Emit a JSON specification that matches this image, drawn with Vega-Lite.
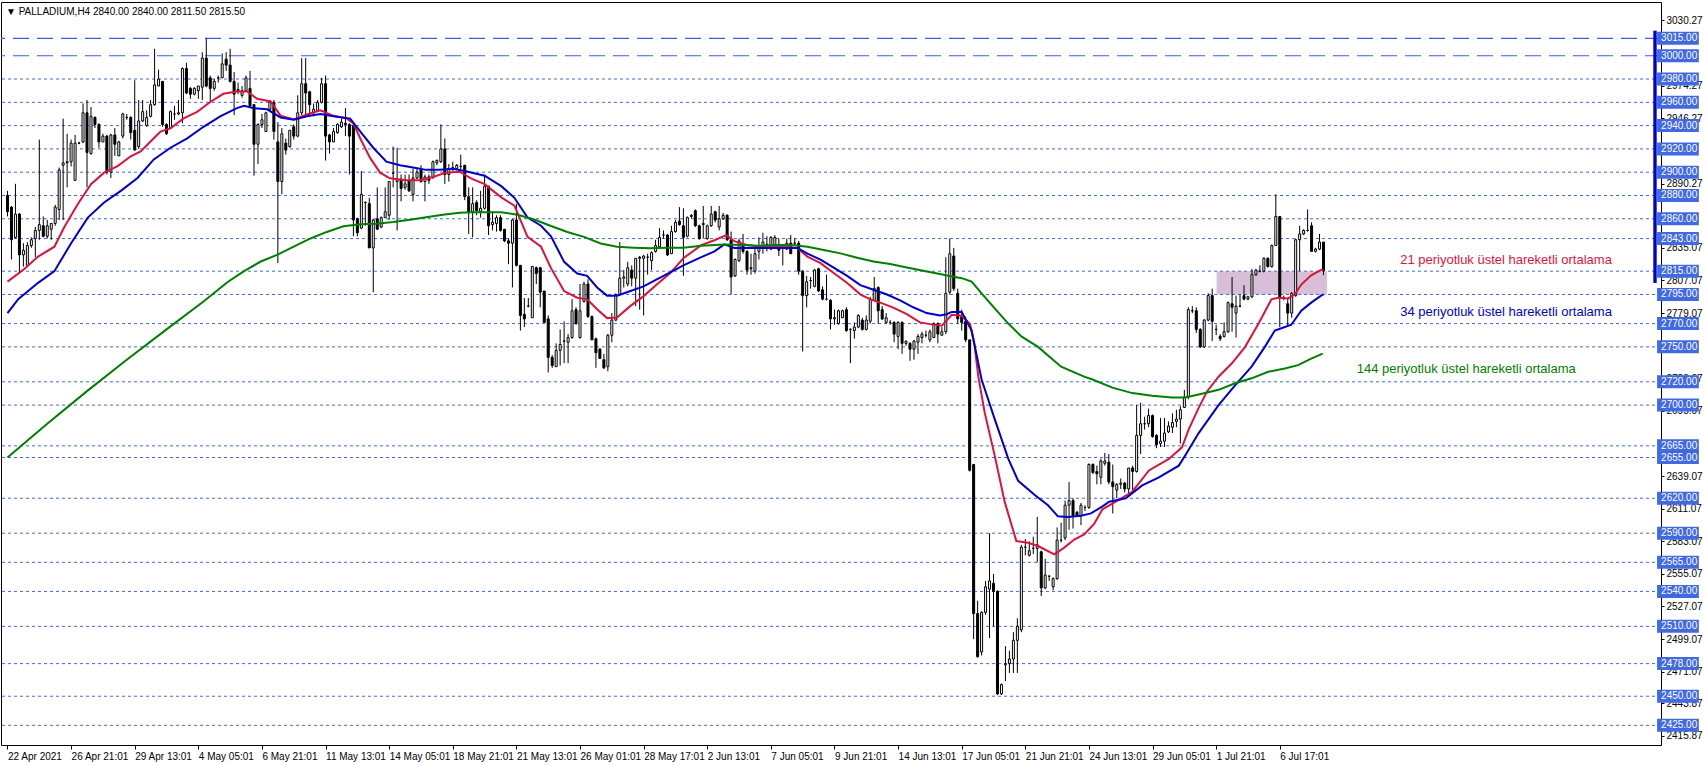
{
"$schema":"https://vega.github.io/schema/vega-lite/v6.json",
"width":1660,"height":743,
"autosize":{"type":"none"},
"padding":{"left":1,"top":2,"right":45,"bottom":21},
"background":"white",
"config":{"view":{"stroke":"black","strokeWidth":1},"font":"Liberation Sans"},
"title":{"text":"▼  PALLADIUM,H4  2840.00 2840.00 2811.50 2815.50","anchor":"start","frame":"group","orient":"top","offset":-12,"dx":5,"dy":11,"baseline":"alphabetic","font":"Liberation Sans","fontSize":10,"fontWeight":"normal","color":"black"},
"resolve":{"axis":{"x":"independent","y":"independent"}},
"datasets":{
"candles":[
{"i":0,"o":2880,"h":2884,"l":2862,"c":2866},{"i":1,"o":2870,"h":2871,"l":2825,"c":2842},{"i":2,"o":2844,"h":2890,"l":2843,"c":2864},{"i":3,"o":2864,"h":2865,"l":2813,"c":2829},{"i":4,"o":2829,"h":2839,"l":2819,"c":2833},{"i":5,"o":2820,"h":2840,"l":2819,"c":2837},{"i":6,"o":2837,"h":2844,"l":2835,"c":2842},{"i":7,"o":2843,"h":2853,"l":2827,"c":2850},{"i":8,"o":2850,"h":2928,"l":2842,"c":2855},{"i":9,"o":2854,"h":2862,"l":2844,"c":2845},
{"i":10,"o":2845,"h":2859,"l":2843,"c":2854},{"i":11,"o":2851,"h":2856,"l":2842,"c":2856},{"i":12,"o":2856,"h":2872,"l":2854,"c":2870},{"i":13,"o":2868,"h":2904,"l":2859,"c":2902},{"i":14,"o":2906,"h":2946,"l":2859,"c":2908},{"i":15,"o":2908,"h":2933,"l":2887,"c":2909},{"i":16,"o":2909,"h":2928,"l":2905,"c":2925},{"i":17,"o":2893,"h":2932,"l":2893,"c":2925},{"i":18,"o":2925,"h":2926,"l":2924,"c":2925},{"i":19,"o":2926,"h":2959,"l":2925,"c":2951},
{"i":20,"o":2951,"h":2962,"l":2887,"c":2917},{"i":21,"o":2916,"h":2956,"l":2915,"c":2948},{"i":22,"o":2947,"h":2948,"l":2938,"c":2941},{"i":23,"o":2941,"h":2942,"l":2921,"c":2926},{"i":24,"o":2926,"h":2933,"l":2926,"c":2931},{"i":25,"o":2931,"h":2932,"l":2898,"c":2900},{"i":26,"o":2900,"h":2933,"l":2895,"c":2932},{"i":27,"o":2932,"h":2938,"l":2914,"c":2924},{"i":28,"o":2914,"h":2927,"l":2914,"c":2926},{"i":29,"o":2931,"h":2951,"l":2929,"c":2950},
{"i":30,"o":2947,"h":2950,"l":2945,"c":2947},{"i":31,"o":2947,"h":2948,"l":2928,"c":2934},{"i":32,"o":2936,"h":2979,"l":2919,"c":2919},{"i":33,"o":2922,"h":2962,"l":2920,"c":2944},{"i":34,"o":2944,"h":2962,"l":2943,"c":2952},{"i":35,"o":2940,"h":2953,"l":2939,"c":2947},{"i":36,"o":2948,"h":2962,"l":2947,"c":2958},{"i":37,"o":2958,"h":3006,"l":2957,"c":2975},{"i":38,"o":2974,"h":2988,"l":2974,"c":2980},{"i":39,"o":2978,"h":2978,"l":2939,"c":2941},
{"i":40,"o":2941,"h":2942,"l":2932,"c":2933},{"i":41,"o":2938,"h":2953,"l":2937,"c":2952},{"i":42,"o":2950,"h":2957,"l":2945,"c":2950},{"i":43,"o":2950,"h":2962,"l":2949,"c":2951},{"i":44,"o":2951,"h":2990,"l":2942,"c":2989},{"i":45,"o":2989,"h":2994,"l":2967,"c":2968},{"i":46,"o":2972,"h":2973,"l":2963,"c":2967},{"i":47,"o":2967,"h":2973,"l":2966,"c":2972},{"i":48,"o":2970,"h":2974,"l":2963,"c":2974},{"i":49,"o":2973,"h":3003,"l":2962,"c":2998},
{"i":50,"o":2998,"h":3015,"l":2973,"c":2974},{"i":51,"o":2981,"h":2983,"l":2960,"c":2972},{"i":52,"o":2972,"h":2980,"l":2970,"c":2978},{"i":53,"o":2981,"h":2983,"l":2977,"c":2981},{"i":54,"o":2981,"h":3002,"l":2981,"c":2993},{"i":55,"o":2997,"h":3003,"l":2987,"c":2992},{"i":56,"o":2992,"h":3006,"l":2977,"c":2978},{"i":57,"o":2978,"h":2986,"l":2949,"c":2967},{"i":58,"o":2970,"h":2977,"l":2967,"c":2971},{"i":59,"o":2966,"h":2974,"l":2964,"c":2970},
{"i":60,"o":2970,"h":2983,"l":2969,"c":2981},{"i":61,"o":2972,"h":2987,"l":2956,"c":2957},{"i":62,"o":2958,"h":2958,"l":2897,"c":2924},{"i":63,"o":2924,"h":2942,"l":2907,"c":2941},{"i":64,"o":2941,"h":2950,"l":2938,"c":2945},{"i":65,"o":2935,"h":2952,"l":2935,"c":2951},{"i":66,"o":2954,"h":2962,"l":2953,"c":2960},{"i":67,"o":2960,"h":2962,"l":2928,"c":2935},{"i":68,"o":2926,"h":2943,"l":2822,"c":2892},{"i":69,"o":2892,"h":2938,"l":2881,"c":2933},
{"i":70,"o":2925,"h":2929,"l":2915,"c":2919},{"i":71,"o":2922,"h":2936,"l":2921,"c":2936},{"i":72,"o":2939,"h":2941,"l":2928,"c":2931},{"i":73,"o":2931,"h":2966,"l":2930,"c":2951},{"i":74,"o":2951,"h":2998,"l":2949,"c":2976},{"i":75,"o":2976,"h":2998,"l":2950,"c":2968},{"i":76,"o":2969,"h":2970,"l":2948,"c":2958},{"i":77,"o":2951,"h":2959,"l":2948,"c":2954},{"i":78,"o":2953,"h":2962,"l":2952,"c":2960},{"i":79,"o":2960,"h":2981,"l":2959,"c":2976},
{"i":80,"o":2976,"h":2983,"l":2910,"c":2931},{"i":81,"o":2932,"h":2933,"l":2916,"c":2926},{"i":82,"o":2926,"h":2938,"l":2926,"c":2935},{"i":83,"o":2934,"h":2942,"l":2933,"c":2941},{"i":84,"o":2939,"h":2946,"l":2938,"c":2943},{"i":85,"o":2942,"h":2955,"l":2931,"c":2941},{"i":86,"o":2941,"h":2942,"l":2898,"c":2931},{"i":87,"o":2940,"h":2942,"l":2845,"c":2859},{"i":88,"o":2860,"h":2861,"l":2845,"c":2848},{"i":89,"o":2852,"h":2901,"l":2851,"c":2881},
{"i":90,"o":2874,"h":2875,"l":2854,"c":2874},{"i":91,"o":2873,"h":2878,"l":2835,"c":2835},{"i":92,"o":2835,"h":2860,"l":2797,"c":2859},{"i":93,"o":2860,"h":2887,"l":2851,"c":2851},{"i":94,"o":2853,"h":2862,"l":2852,"c":2861},{"i":95,"o":2861,"h":2887,"l":2861,"c":2866},{"i":96,"o":2863,"h":2892,"l":2859,"c":2892},{"i":97,"o":2899,"h":2922,"l":2887,"c":2899},{"i":98,"o":2892,"h":2921,"l":2850,"c":2894},{"i":99,"o":2894,"h":2898,"l":2875,"c":2886},
{"i":100,"o":2887,"h":2898,"l":2885,"c":2890},{"i":101,"o":2893,"h":2898,"l":2883,"c":2884},{"i":102,"o":2881,"h":2903,"l":2875,"c":2895},{"i":103,"o":2895,"h":2904,"l":2894,"c":2900},{"i":104,"o":2902,"h":2906,"l":2891,"c":2892},{"i":105,"o":2892,"h":2898,"l":2875,"c":2896},{"i":106,"o":2896,"h":2898,"l":2890,"c":2893},{"i":107,"o":2895,"h":2910,"l":2895,"c":2909},{"i":108,"o":2908,"h":2911,"l":2906,"c":2910},{"i":109,"o":2909,"h":2941,"l":2908,"c":2920},
{"i":110,"o":2920,"h":2929,"l":2890,"c":2898},{"i":111,"o":2898,"h":2907,"l":2892,"c":2903},{"i":112,"o":2904,"h":2909,"l":2901,"c":2904},{"i":113,"o":2903,"h":2907,"l":2902,"c":2906},{"i":114,"o":2905,"h":2915,"l":2902,"c":2905},{"i":115,"o":2906,"h":2906,"l":2876,"c":2879},{"i":116,"o":2879,"h":2887,"l":2847,"c":2866},{"i":117,"o":2866,"h":2887,"l":2844,"c":2873},{"i":118,"o":2874,"h":2876,"l":2863,"c":2867},{"i":119,"o":2866,"h":2884,"l":2861,"c":2869},
{"i":120,"o":2869,"h":2898,"l":2868,"c":2888},{"i":121,"o":2888,"h":2888,"l":2846,"c":2854},{"i":122,"o":2855,"h":2866,"l":2850,"c":2857},{"i":123,"o":2856,"h":2863,"l":2849,"c":2861},{"i":124,"o":2861,"h":2863,"l":2849,"c":2850},{"i":125,"o":2851,"h":2851,"l":2840,"c":2841},{"i":126,"o":2841,"h":2843,"l":2821,"c":2839},{"i":127,"o":2839,"h":2860,"l":2801,"c":2859},{"i":128,"o":2859,"h":2873,"l":2819,"c":2820},{"i":129,"o":2820,"h":2820,"l":2764,"c":2777},
{"i":130,"o":2778,"h":2792,"l":2767,"c":2774},{"i":131,"o":2785,"h":2792,"l":2784,"c":2785},{"i":132,"o":2775,"h":2819,"l":2775,"c":2819},{"i":133,"o":2818,"h":2819,"l":2804,"c":2813},{"i":134,"o":2818,"h":2818,"l":2784,"c":2797},{"i":135,"o":2798,"h":2798,"l":2771,"c":2771},{"i":136,"o":2774,"h":2777,"l":2728,"c":2741},{"i":137,"o":2741,"h":2743,"l":2732,"c":2734},{"i":138,"o":2733,"h":2753,"l":2733,"c":2747},{"i":139,"o":2747,"h":2765,"l":2734,"c":2752},
{"i":140,"o":2755,"h":2772,"l":2736,"c":2755},{"i":141,"o":2754,"h":2761,"l":2736,"c":2758},{"i":142,"o":2758,"h":2791,"l":2757,"c":2781},{"i":143,"o":2782,"h":2784,"l":2769,"c":2770},{"i":144,"o":2758,"h":2804,"l":2757,"c":2781},{"i":145,"o":2789,"h":2806,"l":2788,"c":2804},{"i":146,"o":2804,"h":2808,"l":2775,"c":2776},{"i":147,"o":2776,"h":2777,"l":2756,"c":2756},{"i":148,"o":2757,"h":2758,"l":2732,"c":2745},{"i":149,"o":2748,"h":2749,"l":2740,"c":2740},
{"i":150,"o":2739,"h":2744,"l":2731,"c":2732},{"i":151,"o":2733,"h":2761,"l":2729,"c":2760},{"i":152,"o":2760,"h":2779,"l":2754,"c":2773},{"i":153,"o":2773,"h":2796,"l":2772,"c":2795},{"i":154,"o":2795,"h":2840,"l":2794,"c":2809},{"i":155,"o":2809,"h":2816,"l":2801,"c":2810},{"i":156,"o":2804,"h":2823,"l":2802,"c":2818},{"i":157,"o":2816,"h":2820,"l":2802,"c":2809},{"i":158,"o":2809,"h":2826,"l":2785,"c":2826},{"i":159,"o":2826,"h":2828,"l":2782,"c":2827},
{"i":160,"o":2826,"h":2829,"l":2777,"c":2828},{"i":161,"o":2827,"h":2830,"l":2812,"c":2827},{"i":162,"o":2824,"h":2832,"l":2816,"c":2831},{"i":163,"o":2832,"h":2842,"l":2831,"c":2837},{"i":164,"o":2836,"h":2852,"l":2835,"c":2844},{"i":165,"o":2846,"h":2850,"l":2843,"c":2846},{"i":166,"o":2846,"h":2847,"l":2828,"c":2829},{"i":167,"o":2830,"h":2854,"l":2830,"c":2849},{"i":168,"o":2849,"h":2859,"l":2848,"c":2857},{"i":169,"o":2858,"h":2870,"l":2854,"c":2855},
{"i":170,"o":2854,"h":2869,"l":2811,"c":2844},{"i":171,"o":2845,"h":2862,"l":2844,"c":2861},{"i":172,"o":2862,"h":2864,"l":2860,"c":2863},{"i":173,"o":2867,"h":2868,"l":2853,"c":2854},{"i":174,"o":2854,"h":2855,"l":2842,"c":2843},{"i":175,"o":2855,"h":2871,"l":2843,"c":2856},{"i":176,"o":2843,"h":2855,"l":2842,"c":2854},{"i":177,"o":2854,"h":2871,"l":2853,"c":2864},{"i":178,"o":2866,"h":2867,"l":2857,"c":2859},{"i":179,"o":2853,"h":2871,"l":2850,"c":2860},
{"i":180,"o":2860,"h":2865,"l":2859,"c":2863},{"i":181,"o":2863,"h":2864,"l":2841,"c":2842},{"i":182,"o":2842,"h":2849,"l":2795,"c":2810},{"i":183,"o":2811,"h":2826,"l":2810,"c":2825},{"i":184,"o":2824,"h":2843,"l":2823,"c":2841},{"i":185,"o":2837,"h":2847,"l":2830,"c":2832},{"i":186,"o":2832,"h":2833,"l":2812,"c":2816},{"i":187,"o":2817,"h":2830,"l":2812,"c":2818},{"i":188,"o":2815,"h":2836,"l":2813,"c":2830},{"i":189,"o":2832,"h":2844,"l":2825,"c":2836},
{"i":190,"o":2836,"h":2848,"l":2830,"c":2840},{"i":191,"o":2838,"h":2845,"l":2832,"c":2838},{"i":192,"o":2834,"h":2845,"l":2833,"c":2844},{"i":193,"o":2836,"h":2846,"l":2835,"c":2844},{"i":194,"o":2838,"h":2843,"l":2828,"c":2833},{"i":195,"o":2836,"h":2838,"l":2820,"c":2836},{"i":196,"o":2834,"h":2843,"l":2833,"c":2839},{"i":197,"o":2839,"h":2846,"l":2830,"c":2830},{"i":198,"o":2839,"h":2843,"l":2837,"c":2839},{"i":199,"o":2839,"h":2841,"l":2812,"c":2815},
{"i":200,"o":2815,"h":2816,"l":2746,"c":2794},{"i":201,"o":2794,"h":2811,"l":2784,"c":2806},{"i":202,"o":2807,"h":2810,"l":2800,"c":2807},{"i":203,"o":2802,"h":2817,"l":2801,"c":2816},{"i":204,"o":2817,"h":2818,"l":2797,"c":2798},{"i":205,"o":2799,"h":2802,"l":2790,"c":2791},{"i":206,"o":2791,"h":2812,"l":2790,"c":2791},{"i":207,"o":2790,"h":2791,"l":2765,"c":2774},{"i":208,"o":2774,"h":2782,"l":2769,"c":2775},{"i":209,"o":2770,"h":2782,"l":2769,"c":2781},
{"i":210,"o":2775,"h":2782,"l":2775,"c":2781},{"i":211,"o":2782,"h":2784,"l":2763,"c":2764},{"i":212,"o":2765,"h":2766,"l":2736,"c":2765},{"i":213,"o":2764,"h":2771,"l":2757,"c":2767},{"i":214,"o":2767,"h":2778,"l":2766,"c":2777},{"i":215,"o":2773,"h":2775,"l":2764,"c":2765},{"i":216,"o":2765,"h":2777,"l":2764,"c":2773},{"i":217,"o":2772,"h":2793,"l":2770,"c":2791},{"i":218,"o":2790,"h":2810,"l":2790,"c":2800},{"i":219,"o":2801,"h":2802,"l":2770,"c":2781},
{"i":220,"o":2782,"h":2785,"l":2773,"c":2774},{"i":221,"o":2771,"h":2779,"l":2770,"c":2775},{"i":222,"o":2771,"h":2773,"l":2769,"c":2771},{"i":223,"o":2771,"h":2772,"l":2754,"c":2761},{"i":224,"o":2759,"h":2772,"l":2748,"c":2771},{"i":225,"o":2771,"h":2772,"l":2744,"c":2753},{"i":226,"o":2753,"h":2755,"l":2751,"c":2755},{"i":227,"o":2753,"h":2754,"l":2738,"c":2748},{"i":228,"o":2748,"h":2756,"l":2739,"c":2755},{"i":229,"o":2754,"h":2761,"l":2744,"c":2759},
{"i":230,"o":2758,"h":2763,"l":2753,"c":2761},{"i":231,"o":2760,"h":2764,"l":2758,"c":2760},{"i":232,"o":2756,"h":2765,"l":2754,"c":2763},{"i":233,"o":2758,"h":2771,"l":2758,"c":2770},{"i":234,"o":2770,"h":2771,"l":2753,"c":2761},{"i":235,"o":2760,"h":2767,"l":2760,"c":2763},{"i":236,"o":2763,"h":2827,"l":2761,"c":2796},{"i":237,"o":2797,"h":2843,"l":2795,"c":2830},{"i":238,"o":2828,"h":2835,"l":2798,"c":2800},{"i":239,"o":2796,"h":2800,"l":2770,"c":2774},
{"i":240,"o":2776,"h":2782,"l":2764,"c":2771},{"i":241,"o":2772,"h":2776,"l":2754,"c":2756},{"i":242,"o":2756,"h":2756,"l":2643,"c":2644},{"i":243,"o":2649,"h":2649,"l":2499,"c":2521},{"i":244,"o":2521,"h":2532,"l":2483,"c":2484},{"i":245,"o":2488,"h":2523,"l":2485,"c":2522},{"i":246,"o":2522,"h":2549,"l":2520,"c":2544},{"i":247,"o":2542,"h":2590,"l":2500,"c":2549},{"i":248,"o":2547,"h":2555,"l":2510,"c":2540},{"i":249,"o":2540,"h":2541,"l":2451,"c":2452},
{"i":250,"o":2452,"h":2461,"l":2451,"c":2460},{"i":251,"o":2477,"h":2493,"l":2463,"c":2478},{"i":252,"o":2478,"h":2489,"l":2470,"c":2482},{"i":253,"o":2482,"h":2505,"l":2470,"c":2498},{"i":254,"o":2498,"h":2517,"l":2470,"c":2510},{"i":255,"o":2507,"h":2580,"l":2505,"c":2578},{"i":256,"o":2578,"h":2585,"l":2571,"c":2578},{"i":257,"o":2571,"h":2583,"l":2570,"c":2575},{"i":258,"o":2577,"h":2587,"l":2572,"c":2577},{"i":259,"o":2577,"h":2604,"l":2565,"c":2580},
{"i":260,"o":2574,"h":2575,"l":2536,"c":2543},{"i":261,"o":2543,"h":2568,"l":2542,"c":2554},{"i":262,"o":2553,"h":2554,"l":2549,"c":2553},{"i":263,"o":2544,"h":2552,"l":2541,"c":2551},{"i":264,"o":2551,"h":2595,"l":2550,"c":2584},{"i":265,"o":2584,"h":2599,"l":2582,"c":2584},{"i":266,"o":2586,"h":2618,"l":2584,"c":2614},{"i":267,"o":2614,"h":2634,"l":2593,"c":2618},{"i":268,"o":2618,"h":2620,"l":2594,"c":2605},{"i":269,"o":2608,"h":2609,"l":2604,"c":2605},
{"i":270,"o":2605,"h":2616,"l":2597,"c":2614},{"i":271,"o":2612,"h":2614,"l":2609,"c":2612},{"i":272,"o":2612,"h":2650,"l":2611,"c":2649},{"i":273,"o":2649,"h":2650,"l":2641,"c":2642},{"i":274,"o":2643,"h":2648,"l":2632,"c":2641},{"i":275,"o":2638,"h":2654,"l":2632,"c":2652},{"i":276,"o":2650,"h":2659,"l":2648,"c":2652},{"i":277,"o":2651,"h":2658,"l":2632,"c":2634},{"i":278,"o":2634,"h":2649,"l":2607,"c":2630},{"i":279,"o":2627,"h":2633,"l":2620,"c":2632},
{"i":280,"o":2632,"h":2637,"l":2628,"c":2633},{"i":281,"o":2633,"h":2634,"l":2625,"c":2628},{"i":282,"o":2628,"h":2646,"l":2621,"c":2646},{"i":283,"o":2646,"h":2648,"l":2625,"c":2643},{"i":284,"o":2643,"h":2700,"l":2642,"c":2674},{"i":285,"o":2674,"h":2702,"l":2658,"c":2684},{"i":286,"o":2684,"h":2690,"l":2679,"c":2684},{"i":287,"o":2684,"h":2697,"l":2681,"c":2691},{"i":288,"o":2691,"h":2692,"l":2672,"c":2673},{"i":289,"o":2674,"h":2675,"l":2663,"c":2666},
{"i":290,"o":2667,"h":2689,"l":2664,"c":2669},{"i":291,"o":2669,"h":2689,"l":2664,"c":2676},{"i":292,"o":2677,"h":2686,"l":2676,"c":2682},{"i":293,"o":2681,"h":2693,"l":2676,"c":2685},{"i":294,"o":2686,"h":2696,"l":2681,"c":2688},{"i":295,"o":2688,"h":2699,"l":2667,"c":2696},{"i":296,"o":2698,"h":2713,"l":2698,"c":2707},{"i":297,"o":2707,"h":2784,"l":2705,"c":2782},{"i":298,"o":2781,"h":2785,"l":2779,"c":2781},{"i":299,"o":2781,"h":2784,"l":2762,"c":2765},
{"i":300,"o":2765,"h":2766,"l":2749,"c":2750},{"i":301,"o":2750,"h":2774,"l":2749,"c":2773},{"i":302,"o":2773,"h":2796,"l":2772,"c":2794},{"i":303,"o":2794,"h":2800,"l":2755,"c":2772},{"i":304,"o":2765,"h":2769,"l":2760,"c":2765},{"i":305,"o":2759,"h":2761,"l":2755,"c":2757},{"i":306,"o":2759,"h":2771,"l":2758,"c":2763},{"i":307,"o":2763,"h":2789,"l":2762,"c":2788},{"i":308,"o":2787,"h":2810,"l":2763,"c":2784},{"i":309,"o":2779,"h":2794,"l":2758,"c":2785},
{"i":310,"o":2785,"h":2795,"l":2784,"c":2785},{"i":311,"o":2794,"h":2803,"l":2790,"c":2791},{"i":312,"o":2791,"h":2794,"l":2790,"c":2793},{"i":313,"o":2793,"h":2817,"l":2792,"c":2812},{"i":314,"o":2812,"h":2817,"l":2811,"c":2816},{"i":315,"o":2815,"h":2820,"l":2814,"c":2815},{"i":316,"o":2815,"h":2827,"l":2814,"c":2826},{"i":317,"o":2826,"h":2827,"l":2818,"c":2819},{"i":318,"o":2819,"h":2838,"l":2818,"c":2837},{"i":319,"o":2837,"h":2881,"l":2837,"c":2862},
{"i":320,"o":2862,"h":2862,"l":2767,"c":2792},{"i":321,"o":2792,"h":2794,"l":2790,"c":2792},{"i":322,"o":2787,"h":2791,"l":2768,"c":2779},{"i":323,"o":2779,"h":2797,"l":2775,"c":2796},{"i":324,"o":2794,"h":2843,"l":2793,"c":2842},{"i":325,"o":2842,"h":2854,"l":2815,"c":2847},{"i":326,"o":2847,"h":2851,"l":2846,"c":2850},{"i":327,"o":2850,"h":2868,"l":2849,"c":2850},{"i":328,"o":2854,"h":2857,"l":2832,"c":2832},{"i":329,"o":2832,"h":2835,"l":2831,"c":2834},
{"i":330,"o":2834,"h":2847,"l":2833,"c":2840},{"i":331,"o":2840,"h":2840,"l":2811.5,"c":2815.5}
],
"ema":[
{"s":"21","i":0,"v":2806},{"s":"21","i":4.3,"v":2817},{"s":"21","i":7.7,"v":2827.5},{"s":"21","i":11.8,"v":2836},{"s":"21","i":14.3,"v":2853},{"s":"21","i":17.7,"v":2872.7},{"s":"21","i":21,"v":2889.7},{"s":"21","i":24.3,"v":2899.6},{"s":"21","i":27.7,"v":2905.2},{"s":"21","i":31,"v":2913.7},{"s":"21","i":33.5,"v":2917.9},{"s":"21","i":36.8,"v":2929.2},{"s":"21","i":38.5,"v":2934.9},{"s":"21","i":41,"v":2937.7},{"s":"21","i":44.3,"v":2946.2},{"s":"21","i":47.7,"v":2951.8},{"s":"21","i":51,"v":2960.3},{"s":"21","i":54.3,"v":2967.3},{"s":"21","i":57.7,"v":2969.3},{"s":"21","i":60.3,"v":2969.3},{"s":"21","i":62.8,"v":2963},{"s":"21","i":66.2,"v":2960.8},{"s":"21","i":68.7,"v":2948.4},{"s":"21","i":72,"v":2945.3},{"s":"21","i":75.3,"v":2949.5},{"s":"21","i":78.7,"v":2953.2},{"s":"21","i":82,"v":2948.4},{"s":"21","i":85.3,"v":2946.2},{"s":"21","i":87,"v":2941.9},{"s":"21","i":88.7,"v":2929.2},{"s":"21","i":91.2,"v":2912.3},{"s":"21","i":93.7,"v":2899.6},{"s":"21","i":96.2,"v":2894.8},{"s":"21","i":100.3,"v":2893.1},{"s":"21","i":103.7,"v":2893.1},{"s":"21","i":107,"v":2895.9},{"s":"21","i":110.3,"v":2899.6},{"s":"21","i":113.7,"v":2900.4},{"s":"21","i":116.7,"v":2894.5},{"s":"21","i":120,"v":2889.7},{"s":"21","i":124.2,"v":2878.4},{"s":"21","i":127.5,"v":2871.3},{"s":"21","i":130.8,"v":2844.5},{"s":"21","i":134.2,"v":2836},{"s":"21","i":136.7,"v":2817.6},{"s":"21","i":140,"v":2797.9},{"s":"21","i":143.3,"v":2792.2},{"s":"21","i":145.8,"v":2790.8},{"s":"21","i":148.3,"v":2782.3},{"s":"21","i":150.8,"v":2774.7},{"s":"21","i":153.3,"v":2775.3},{"s":"21","i":156.7,"v":2785.2},{"s":"21","i":160,"v":2793.6},{"s":"21","i":163.3,"v":2803.5},{"s":"21","i":166.7,"v":2813.4},{"s":"21","i":170,"v":2826.1},{"s":"21","i":174.5,"v":2837.4},{"s":"21","i":177.8,"v":2841.6},{"s":"21","i":180.8,"v":2845.9},{"s":"21","i":182.8,"v":2840.8},{"s":"21","i":186.2,"v":2837.4},{"s":"21","i":189.5,"v":2836},{"s":"21","i":192.8,"v":2836.8},{"s":"21","i":196.2,"v":2836},{"s":"21","i":198.7,"v":2834.6},{"s":"21","i":201.2,"v":2827.5},{"s":"21","i":204.5,"v":2821.9},{"s":"21","i":207.8,"v":2813.4},{"s":"21","i":211.2,"v":2804.9},{"s":"21","i":214.5,"v":2795.1},{"s":"21","i":217,"v":2790.8},{"s":"21","i":219.5,"v":2788},{"s":"21","i":222.8,"v":2783.7},{"s":"21","i":226.2,"v":2778.1},{"s":"21","i":229.5,"v":2771},{"s":"21","i":232.8,"v":2769.1},{"s":"21","i":235,"v":2768.2},{"s":"21","i":237.5,"v":2777.5},{"s":"21","i":240,"v":2776.7},{"s":"21","i":242.1,"v":2769.6},{"s":"21","i":243.2,"v":2752},{"s":"21","i":244.2,"v":2724},{"s":"21","i":245.8,"v":2693.3},{"s":"21","i":248.3,"v":2656.6},{"s":"21","i":250.8,"v":2617.1},{"s":"21","i":253.75,"v":2583.2},{"s":"21","i":256.7,"v":2581.8},{"s":"21","i":259.2,"v":2579},{"s":"21","i":263.3,"v":2571.9},{"s":"21","i":265.8,"v":2577.6},{"s":"21","i":268.3,"v":2584.6},{"s":"21","i":270.8,"v":2588.9},{"s":"21","i":273.3,"v":2597.9},{"s":"21","i":275.4,"v":2610.5},{"s":"21","i":278.75,"v":2617.1},{"s":"21","i":282.9,"v":2625.6},{"s":"21","i":287.1,"v":2643.9},{"s":"21","i":292.1,"v":2653.8},{"s":"21","i":295.4,"v":2663.7},{"s":"21","i":297.1,"v":2679.2},{"s":"21","i":299.6,"v":2697.6},{"s":"21","i":301.7,"v":2711.7},{"s":"21","i":304.6,"v":2724.4},{"s":"21","i":307.9,"v":2735.7},{"s":"21","i":311.25,"v":2749.8},{"s":"21","i":314.6,"v":2769.6},{"s":"21","i":317.9,"v":2790.8},{"s":"21","i":319.6,"v":2792.2},{"s":"21","i":322.1,"v":2791.6},{"s":"21","i":323.75,"v":2795},{"s":"21","i":325.4,"v":2803.5},{"s":"21","i":327.9,"v":2811.4},{"s":"21","i":330.4,"v":2816.2},{"s":"21","i":331,"v":2815.5},
{"s":"34","i":0,"v":2779},{"s":"34","i":2.7,"v":2791},{"s":"34","i":7.7,"v":2805},{"s":"34","i":11.8,"v":2815},{"s":"34","i":16,"v":2839},{"s":"34","i":20.2,"v":2861},{"s":"34","i":24.3,"v":2874},{"s":"34","i":28.5,"v":2884},{"s":"34","i":32.7,"v":2895},{"s":"34","i":36.8,"v":2911},{"s":"34","i":41,"v":2921},{"s":"34","i":45.2,"v":2929},{"s":"34","i":49.3,"v":2939},{"s":"34","i":53.5,"v":2948},{"s":"34","i":57.7,"v":2955},{"s":"34","i":59.5,"v":2957},{"s":"34","i":62,"v":2955},{"s":"34","i":65.3,"v":2954},{"s":"34","i":68.7,"v":2947},{"s":"34","i":72,"v":2945},{"s":"34","i":75.3,"v":2948},{"s":"34","i":78.7,"v":2950},{"s":"34","i":82,"v":2948},{"s":"34","i":86.2,"v":2946},{"s":"34","i":88.7,"v":2935},{"s":"34","i":92,"v":2921},{"s":"34","i":95.3,"v":2909},{"s":"34","i":98.7,"v":2906},{"s":"34","i":102,"v":2904},{"s":"34","i":105.3,"v":2902},{"s":"34","i":108.7,"v":2902},{"s":"34","i":112,"v":2903},{"s":"34","i":115,"v":2901},{"s":"34","i":120,"v":2897},{"s":"34","i":124.2,"v":2888},{"s":"34","i":127.5,"v":2878},{"s":"34","i":130.8,"v":2861},{"s":"34","i":134.2,"v":2854},{"s":"34","i":136.7,"v":2845},{"s":"34","i":140,"v":2823},{"s":"34","i":143.3,"v":2813},{"s":"34","i":145.8,"v":2811},{"s":"34","i":148.3,"v":2801},{"s":"34","i":150.8,"v":2794},{"s":"34","i":153.3,"v":2794},{"s":"34","i":156.7,"v":2798},{"s":"34","i":160,"v":2802},{"s":"34","i":163.3,"v":2808},{"s":"34","i":166.7,"v":2814},{"s":"34","i":170,"v":2820},{"s":"34","i":174.5,"v":2827},{"s":"34","i":177.8,"v":2832},{"s":"34","i":180.3,"v":2838},{"s":"34","i":182.8,"v":2835},{"s":"34","i":186.2,"v":2835},{"s":"34","i":192.8,"v":2835},{"s":"34","i":198.7,"v":2835},{"s":"34","i":201.2,"v":2830},{"s":"34","i":204.5,"v":2825},{"s":"34","i":207.8,"v":2818},{"s":"34","i":211.2,"v":2811},{"s":"34","i":214.5,"v":2803},{"s":"34","i":217.8,"v":2799},{"s":"34","i":221.2,"v":2795},{"s":"34","i":224.5,"v":2790},{"s":"34","i":227.8,"v":2784},{"s":"34","i":231.2,"v":2779},{"s":"34","i":234.5,"v":2777},{"s":"34","i":236.2,"v":2778},{"s":"34","i":237.5,"v":2780},{"s":"34","i":240,"v":2780},{"s":"34","i":242.5,"v":2764},{"s":"34","i":245,"v":2722},{"s":"34","i":248.3,"v":2688},{"s":"34","i":251.7,"v":2654},{"s":"34","i":254.2,"v":2635},{"s":"34","i":258.3,"v":2623},{"s":"34","i":261.7,"v":2614},{"s":"34","i":264.2,"v":2604.5},{"s":"34","i":266.7,"v":2604},{"s":"34","i":270,"v":2605},{"s":"34","i":272.5,"v":2607},{"s":"34","i":275.4,"v":2613},{"s":"34","i":277.1,"v":2617},{"s":"34","i":281.25,"v":2620},{"s":"34","i":285.4,"v":2631},{"s":"34","i":289.6,"v":2638},{"s":"34","i":294.6,"v":2648},{"s":"34","i":296.25,"v":2657},{"s":"34","i":299.6,"v":2676},{"s":"34","i":304.6,"v":2700},{"s":"34","i":308.75,"v":2717},{"s":"34","i":312.9,"v":2733},{"s":"34","i":316.25,"v":2750},{"s":"34","i":318.75,"v":2764},{"s":"34","i":320.4,"v":2766},{"s":"34","i":322.9,"v":2769},{"s":"34","i":325.4,"v":2781},{"s":"34","i":327.9,"v":2788},{"s":"34","i":330.4,"v":2794},{"s":"34","i":331,"v":2795},
{"s":"144","i":0,"v":2655},{"s":"144","i":10,"v":2684},{"s":"144","i":20,"v":2712},{"s":"144","i":30,"v":2739},{"s":"144","i":40,"v":2765},{"s":"144","i":49.3,"v":2789},{"s":"144","i":55.3,"v":2805.5},{"s":"144","i":59.5,"v":2815},{"s":"144","i":63.7,"v":2823.3},{"s":"144","i":67.8,"v":2829},{"s":"144","i":72,"v":2836},{"s":"144","i":76.2,"v":2843.1},{"s":"144","i":80.3,"v":2848.7},{"s":"144","i":84.5,"v":2853.5},{"s":"144","i":88.7,"v":2855.2},{"s":"144","i":92.8,"v":2855.8},{"s":"144","i":97,"v":2857.2},{"s":"144","i":101.2,"v":2859.2},{"s":"144","i":105.3,"v":2861.4},{"s":"144","i":109.5,"v":2863.4},{"s":"144","i":113.7,"v":2865.1},{"s":"144","i":116.7,"v":2865.7},{"s":"144","i":124.2,"v":2865.7},{"s":"144","i":128.3,"v":2863.4},{"s":"144","i":132.5,"v":2859.4},{"s":"144","i":136.7,"v":2853.8},{"s":"144","i":140.8,"v":2848.7},{"s":"144","i":145,"v":2844.5},{"s":"144","i":149.2,"v":2838.8},{"s":"144","i":153.3,"v":2836},{"s":"144","i":157.5,"v":2835.2},{"s":"144","i":161.7,"v":2834.6},{"s":"144","i":165.8,"v":2835.2},{"s":"144","i":170,"v":2835.2},{"s":"144","i":174.5,"v":2836.8},{"s":"144","i":180.3,"v":2838},{"s":"144","i":184.5,"v":2837.4},{"s":"144","i":188.7,"v":2836.8},{"s":"144","i":192.8,"v":2837.4},{"s":"144","i":197,"v":2837.4},{"s":"144","i":201.2,"v":2836},{"s":"144","i":205.3,"v":2833.2},{"s":"144","i":209.5,"v":2830.3},{"s":"144","i":213.7,"v":2826.6},{"s":"144","i":217.8,"v":2823.3},{"s":"144","i":222,"v":2821.1},{"s":"144","i":226.2,"v":2818.2},{"s":"144","i":230.3,"v":2815.4},{"s":"144","i":234.5,"v":2812.6},{"s":"144","i":236.6,"v":2811.1},{"s":"144","i":240,"v":2809},{"s":"144","i":242.5,"v":2806},{"s":"144","i":245,"v":2796},{"s":"144","i":248.3,"v":2783},{"s":"144","i":251.7,"v":2770},{"s":"144","i":255,"v":2759},{"s":"144","i":259.2,"v":2750},{"s":"144","i":265,"v":2733},{"s":"144","i":270.8,"v":2724.4},{"s":"144","i":272.9,"v":2722},{"s":"144","i":277.9,"v":2715},{"s":"144","i":282.9,"v":2710.3},{"s":"144","i":287.9,"v":2708},{"s":"144","i":292.9,"v":2706.6},{"s":"144","i":296.25,"v":2706.6},{"s":"144","i":300.4,"v":2709.7},{"s":"144","i":304.6,"v":2713.1},{"s":"144","i":308.75,"v":2718.8},{"s":"144","i":312.9,"v":2723},{"s":"144","i":317.1,"v":2728.6},{"s":"144","i":321.25,"v":2731.5},{"s":"144","i":324.6,"v":2734.3},{"s":"144","i":327.9,"v":2739.9},{"s":"144","i":330.8,"v":2744.2}
],
"dotLevels":[{"level":2980},{"level":2960},{"level":2940},{"level":2920},{"level":2900},{"level":2880},{"level":2860},{"level":2843},{"level":2815},{"level":2795},{"level":2770},{"level":2750},{"level":2720},{"level":2700},{"level":2665},{"level":2655},{"level":2620},{"level":2590},{"level":2565},{"level":2540},{"level":2510},{"level":2478},{"level":2450},{"level":2425}],
"dashLevels":[{"level":3015},{"level":3000}],
"allLevels":[{"level":3015},{"level":3000},{"level":2980},{"level":2960},{"level":2940},{"level":2920},{"level":2900},{"level":2880},{"level":2860},{"level":2843},{"level":2815},{"level":2795},{"level":2770},{"level":2750},{"level":2720},{"level":2700},{"level":2665},{"level":2655},{"level":2620},{"level":2590},{"level":2565},{"level":2540},{"level":2510},{"level":2478},{"level":2450},{"level":2425}]
},
"layer":[
{"data":{"name":"candles"},"mark":{"type":"rule","color":"black","strokeWidth":1,"opacity":0},
 "encoding":{
  "x":{"field":"i","type":"quantitative","scale":{"domain":[-0.375,414.625],"nice":false,"zero":false},
   "axis":{"orient":"bottom","values":[0,16,32,48,64,80,96,112,128,144,160,176,192,208,224,240,256,272,288,304,320],
   "labelExpr":"['22 Apr 2021','26 Apr 21:01','29 Apr 13:01','4 May 05:01','6 May 21:01','11 May 13:01','14 May 05:01','18 May 21:01','21 May 13:01','26 May 01:01','28 May 17:01','2 Jun 13:01','7 Jun 05:01','9 Jun 21:01','14 Jun 13:01','17 Jun 05:01','21 Jun 21:01','24 Jun 13:01','29 Jun 05:01','1 Jul 21:01','6 Jul 17:01'][round(datum.value/16)]",
   "title":null,"domain":false,"grid":false,"ticks":true,"tickColor":"black","tickSize":4,"labelAlign":"left","labelBaseline":"top","labelPadding":2,"labelFont":"Liberation Sans","labelFontSize":10,"labelColor":"black","labelOverlap":false,"labelFlush":false,"labelBound":false}},
  "y":{"field":"l","type":"quantitative","scale":{"domain":[2412.41,3041.86],"nice":false,"zero":false},
   "axis":{"orient":"right","values":[3030.27,2974.27,2946.27,2890.27,2835.07,2807.07,2779.07,2723.07,2695.07,2639.07,2611.07,2583.07,2555.07,2527.07,2499.07,2471.07,2443.87,2415.87],
   "labelExpr":"format(datum.value,'.2f')","title":null,"domain":false,"grid":false,"tickColor":"black","tickSize":3,"labelPadding":2,"labelFont":"Liberation Sans","labelFontSize":10,"labelColor":"black","labelOverlap":false,"labelBaseline":"middle","labelAlign":"left","labelBound":false,"labelFlush":false}},
  "y2":{"field":"h"}}},
{"data":{"values":[{}]},"mark":{"type":"rect","color":"#D8BFD8"},
 "encoding":{"x":{"datum":304.1,"type":"quantitative","scale":{"domain":[-0.375,414.625],"nice":false,"zero":false},"axis":null},"x2":{"datum":331.9},
 "y":{"datum":2815,"type":"quantitative","scale":{"domain":[2412.41,3041.86],"nice":false,"zero":false},"axis":null},"y2":{"datum":2795}}},
{"data":{"name":"dotLevels"},"mark":{"type":"rule","color":"#4169E1","strokeWidth":1,"strokeDash":[3,3]},
 "encoding":{"y":{"field":"level","type":"quantitative","scale":{"domain":[2412.41,3041.86],"nice":false,"zero":false},"axis":null}}},
{"data":{"name":"dashLevels"},"mark":{"type":"rule","color":"#3A5FD9","strokeWidth":1.2,"strokeDash":[16,8]},
 "encoding":{"y":{"field":"level","type":"quantitative","scale":{"domain":[2412.41,3041.86],"nice":false,"zero":false},"axis":null}}},
{"data":{"name":"candles"},"mark":{"type":"rule","color":"black","strokeWidth":1},
 "encoding":{
  "x":{"field":"i","type":"quantitative","scale":{"domain":[-0.375,414.625],"nice":false,"zero":false},"axis":null},
  "y":{"field":"l","type":"quantitative","scale":{"domain":[2412.41,3041.86],"nice":false,"zero":false},"axis":null},
  "y2":{"field":"h"}}},
{"data":{"name":"candles"},"mark":{"type":"bar","width":2,"stroke":"black","strokeWidth":1},
 "encoding":{
  "x":{"field":"i","type":"quantitative","scale":{"domain":[-0.375,414.625],"nice":false,"zero":false},"axis":null},
  "y":{"field":"o","type":"quantitative","scale":{"domain":[2412.41,3041.86],"nice":false,"zero":false},"axis":null},
  "y2":{"field":"c"},
  "fill":{"condition":{"test":"datum.c > datum.o","value":"white"},"value":"black"}}},
{"data":{"name":"ema"},"mark":{"type":"line","strokeWidth":2,"interpolate":"linear"},
 "encoding":{
  "x":{"field":"i","type":"quantitative","scale":{"domain":[-0.375,414.625],"nice":false,"zero":false},"axis":null},
  "y":{"field":"v","type":"quantitative","scale":{"domain":[2412.41,3041.86],"nice":false,"zero":false},"axis":null},
  "color":{"field":"s","type":"nominal","scale":{"domain":["21","34","144"],"range":["#DC143C","#0000CD","#008000"]},"legend":null},
  "order":{"field":"i","type":"quantitative"}}},
{"data":{"values":[{}]},"mark":{"type":"bar","color":"#0000CD","orient":"vertical"},
 "encoding":{"x":{"datum":413.95,"type":"quantitative","scale":{"domain":[-0.375,414.625],"nice":false,"zero":false},"axis":null},"x2":{"datum":414.8},
 "y":{"datum":3021.5,"type":"quantitative","scale":{"domain":[2412.41,3041.86],"nice":false,"zero":false},"axis":null},"y2":{"datum":2804.9}}},
{"data":{"name":"allLevels"},"mark":{"type":"bar","color":"#4169E1","height":13,"orient":"horizontal"},
 "encoding":{"x":{"datum":414.9,"type":"quantitative","scale":{"domain":[-0.375,414.625],"nice":false,"zero":false},"axis":null},"x2":{"datum":425.4},
 "y":{"field":"level","type":"quantitative","scale":{"domain":[2412.41,3041.86],"nice":false,"zero":false},"axis":null}}},
{"data":{"name":"allLevels"},"mark":{"type":"text","color":"white","align":"left","baseline":"middle","font":"Liberation Sans","fontSize":10},
 "encoding":{"x":{"datum":415.9,"type":"quantitative","scale":{"domain":[-0.375,414.625],"nice":false,"zero":false},"axis":null},
 "y":{"field":"level","type":"quantitative","scale":{"domain":[2412.41,3041.86],"nice":false,"zero":false},"axis":null},
 "text":{"field":"level","type":"quantitative","format":".2f"}}},
{"data":{"values":[{}]},"mark":{"type":"text","color":"#DC143C","align":"center","baseline":"middle","font":"Liberation Sans","fontSize":13},
 "encoding":{"x":{"datum":376.9,"type":"quantitative","scale":{"domain":[-0.375,414.625],"nice":false,"zero":false},"axis":null},"y":{"datum":2825,"type":"quantitative","scale":{"domain":[2412.41,3041.86],"nice":false,"zero":false},"axis":null},"text":{"value":"21 periyotluk üstel hareketli ortalama"}}},
{"data":{"values":[{}]},"mark":{"type":"text","color":"#0000CD","align":"center","baseline":"middle","font":"Liberation Sans","fontSize":13},
 "encoding":{"x":{"datum":376.9,"type":"quantitative","scale":{"domain":[-0.375,414.625],"nice":false,"zero":false},"axis":null},"y":{"datum":2780.1,"type":"quantitative","scale":{"domain":[2412.41,3041.86],"nice":false,"zero":false},"axis":null},"text":{"value":"34 periyotluk üstel hareketli ortalama"}}},
{"data":{"values":[{}]},"mark":{"type":"text","color":"#008000","align":"center","baseline":"middle","font":"Liberation Sans","fontSize":13},
 "encoding":{"x":{"datum":366.9,"type":"quantitative","scale":{"domain":[-0.375,414.625],"nice":false,"zero":false},"axis":null},"y":{"datum":2730.9,"type":"quantitative","scale":{"domain":[2412.41,3041.86],"nice":false,"zero":false},"axis":null},"text":{"value":"144 periyotluk üstel hareketli ortalama"}}}
]
}
